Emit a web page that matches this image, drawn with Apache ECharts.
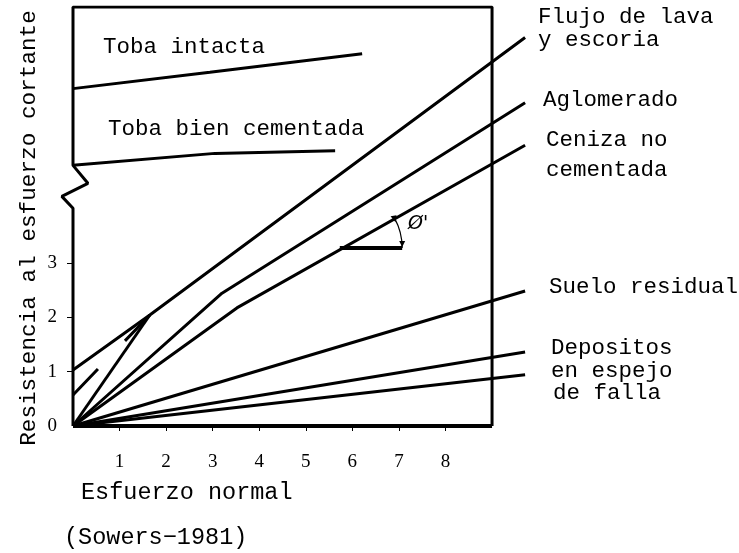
<!DOCTYPE html>
<html>
<head>
<meta charset="utf-8">
<script src="https://cdn.jsdelivr.net/npm/echarts@6/dist/echarts.min.js"></script>
<style>
  html, body { margin: 0; padding: 0; background: #fff; }
  #chart { width: 739px; height: 553px; }
</style>
</head>
<body>
<div id="chart"></div>
<script>
// ticks
var xTicks = [1, 2, 3, 4, 5, 6, 7, 8];
var yTicks = [0, 1, 2, 3];

// envolventes (esfuerzo normal, resistencia)
var flujoLava = [[0, 1.03], [1.65, 2.04], [9.71, 7.14]];
var flujoOrigen = [[0, 0], [1.65, 2.04]];
var flujoDashed = [[0, 0.57], [1.65, 2.04]];
var aglomerado = [[0, 0], [3.2, 2.44], [9.71, 5.94]];
var ceniza = [[0, 0], [3.52, 2.17], [9.71, 5.16]];
var sueloResidual = [[0, 0], [9.71, 2.48]];
var depositos1 = [[0, 0], [9.71, 1.36]];
var depositos2 = [[0, 0], [9.71, 0.94]];
var tobaIntacta = [[0, 6.2], [2.94, 6.5], [6.21, 6.84]];
var tobaCementada = [[0, 4.79], [3.05, 5.01], [5.63, 5.06]];
var phiBase = [[5.73, 3.27], [7.07, 3.27]];

// marco con el corte del eje
var frame = [[9, 0], [9, 7.7], [0, 7.7], [0, 4.79], [0.32, 4.46], [-0.24, 4.22], [0, 4.0], [0, 0]];
var frameBottom = [[0, 0], [9, 0]];

var FONT = 'Liberation Mono';
var XMIN = -0.5, XMAX = 10, PX = 46.56;

var chart = echarts.init(document.getElementById('chart'));

function line(data, extra) {
  var s = {
    type: 'line',
    data: data,
    symbol: 'none',
    silent: true,
    lineStyle: { color: '#000', width: 3 }
  };
  for (var k in extra) s[k] = extra[k];
  return s;
}

chart.setOption({
  animation: false,
  backgroundColor: '#fff',
  grid: { left: 73 + XMIN * PX, top: 7, right: 739 - (73 + XMAX * PX), bottom: 127 },
  xAxis: {
    type: 'value',
    min: XMIN,
    max: XMAX,
    splitLine: { show: false },
    axisLine: { show: false },
    axisTick: { show: true, customValues: xTicks, length: 5, lineStyle: { color: '#000', width: 1 } },
    axisLabel: { customValues: xTicks, color: '#000', fontFamily: 'Liberation Serif', fontSize: 19, margin: 27 }
  },
  yAxis: {
    type: 'value',
    min: 0,
    max: 7.7,
    offset: XMIN * PX,
    splitLine: { show: false },
    axisLine: { show: false, onZero: false },
    axisTick: { show: true, customValues: [1, 2, 3], length: 6, lineStyle: { color: '#000', width: 1 } },
    axisLabel: { customValues: yTicks, color: '#000', fontFamily: 'Liberation Serif', fontSize: 19, margin: 16 }
  },
  series: [
    line(frame),
    line(frameBottom, { lineStyle: { color: '#000', width: 4 } }),
    line(flujoLava),
    line(flujoOrigen),
    line(flujoDashed, { lineStyle: { color: '#000', width: 3, type: [36, 39] } }),
    line(aglomerado),
    line(ceniza),
    line(sueloResidual),
    line(depositos1),
    line(depositos2),
    line(tobaIntacta),
    line(tobaCementada),
    line(phiBase, { lineStyle: { color: '#000', width: 4 } })
  ]
});

// angulo phi'
var c = chart.convertToPixel({ gridIndex: 0 }, phiBase[0]);
var r = chart.convertToPixel({ gridIndex: 0 }, phiBase[1])[0] - c[0];
var ang = 0.5;
var ex = c[0] + r * Math.cos(ang), ey = c[1] - r * Math.sin(ang);

function txt(x, y, s, size, opts) {
  var o = {
    type: 'text', x: x, y: y, silent: true,
    style: { text: s, fill: '#000', font: (size || 22.5) + 'px "' + FONT + '"', textVerticalAlign: 'middle', textAlign: 'left' }
  };
  for (var k in opts) o[k] = opts[k];
  return o;
}

chart.setOption({
  graphic: [
    { type: 'arc', silent: true, shape: { cx: c[0], cy: c[1], r: r, startAngle: -ang, endAngle: 0, clockwise: true },
      style: { stroke: '#000', lineWidth: 1.2, fill: null } },
    { type: 'polygon', silent: true, shape: { points: [[c[0] + r - 3, c[1] - 7], [c[0] + r + 3, c[1] - 7], [c[0] + r, c[1] - 1]] }, style: { fill: '#000' } },
    { type: 'polygon', silent: true, shape: { points: [[ex - 4, ey - 2], [ex + 2, ey - 3], [ex + 1, ey + 4]] }, style: { fill: '#000' } },
    { type: 'text', x: 408, y: 224, silent: true,
      style: { text: "Ø'", fill: '#000', font: 'italic 19px "DejaVu Sans"', textVerticalAlign: 'middle' } },

    txt(103, 47, 'Toba intacta'),
    txt(108, 129, 'Toba bien cementada'),
    txt(538, 17, 'Flujo de lava'),
    txt(538, 40, 'y escoria'),
    txt(543, 100, 'Aglomerado'),
    txt(546, 140, 'Ceniza no'),
    txt(546, 170, 'cementada'),
    txt(549, 287, 'Suelo residual'),
    txt(551, 348, 'Depositos'),
    txt(551, 371, 'en espejo'),
    txt(553, 393, 'de falla'),
    txt(81, 493, 'Esfuerzo normal', 23.5),
    txt(64, 538, '(Sowers\u22121981)', 23.5),
    txt(29, 228, '', 0, { rotation: Math.PI / 2, style: { text: 'Resistencia al esfuerzo cortante', fill: '#000', font: '22.7px "' + FONT + '"', textVerticalAlign: 'middle', textAlign: 'center' } })
  ]
});
</script>
</body>
</html>
